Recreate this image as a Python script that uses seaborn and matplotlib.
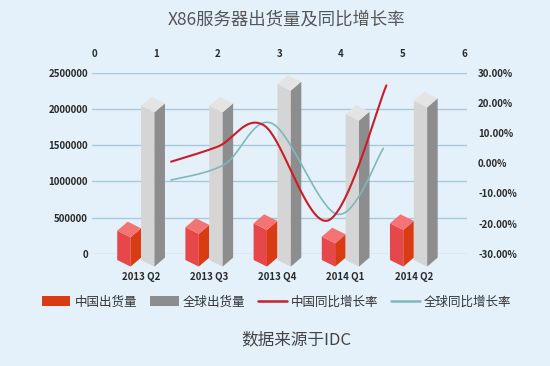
import numpy as np
import pandas as pd
import matplotlib
matplotlib.use("Agg")
import matplotlib.pyplot as plt
from matplotlib.patches import Polygon, Patch
from matplotlib.lines import Line2D
import seaborn as sns

# data
quarters = ["2013 Q2", "2013 Q3", "2013 Q4", "2014 Q1", "2014 Q2"]
china_units = [405000, 452000, 507000, 322000, 507000]
global_units = [2131000, 2131000, 2431000, 2017000, 2200000]

china_growth_x = [1.24, 2.0, 2.76, 3.79, 4.74]
china_growth = [0.5, 5.5, 12.4, -19.0, 25.8]
global_growth_x = [1.24, 2.1, 2.88, 3.94, 4.69]
global_growth = [-5.6, -0.5, 13.2, -16.9, 4.9]

left_ticks = [0, 500000, 1000000, 1500000, 2000000, 2500000]
right_ticks = [-30, -20, -10, 0, 10, 20, 30]
top_ticks = [0, 1, 2, 3, 4, 5, 6]

bg = "#e5f1fa"
grid_col = "#a9c9da"
red_faces = ("#e6474a", "#d93c12", "#f47475")
gray_faces = ("#d5d5d5", "#8d8d8d", "#e4e4e4")
red_line = "#cc1c28"
teal_line = "#7fb7bd"


def smooth(xs, ys, n=40):
    # catmull-rom, like excel's smoothed line
    pts = np.column_stack([xs, ys]).astype(float)
    out = []
    for i in range(len(pts) - 1):
        p0 = pts[max(i - 1, 0)]
        p1 = pts[i]
        p2 = pts[i + 1]
        p3 = pts[min(i + 2, len(pts) - 1)]
        t = np.linspace(0, 1, n)[:, None]
        seg = 0.5 * (2 * p1 + (-p0 + p2) * t + (2 * p0 - 5 * p1 + 4 * p2 - p3) * t ** 2
                     + (-p0 + 3 * p1 - 3 * p2 + p3) * t ** 3)
        out.append(seg if i == 0 else seg[1:])
    out = np.vstack(out)
    return out[:, 0], out[:, 1]


sns.set_theme(style="white")
plt.rcParams["font.family"] = ["Noto Sans CJK SC", "DejaVu Sans"]

fig = plt.figure(figsize=(5.5, 3.66), dpi=100)
fig.patch.set_facecolor(bg)
ax = fig.add_axes([92 / 550, 1 - 253.7 / 366, (467 - 92) / 550, (253.7 - 72.7) / 366])
ax.set_facecolor(bg)

df = pd.DataFrame({
    "quarter": quarters * 2,
    "units": china_units + global_units,
    "series": ["中国出货量"] * len(quarters) + ["全球出货量"] * len(quarters),
})
sns.barplot(data=df, x="quarter", y="units", hue="series", palette=[red_faces[1], gray_faces[1]],
            width=0.7, saturation=1, legend=False, ax=ax)
ax.set_xlim(-0.72, 4.78)
ax.set_ylim(0, 2500000)

# pixel offsets for the fake 3d look, converted to data units
units_per_px = 2500000 / 181.0
shift = 6.3 * units_per_px
drop = 6.6 * units_per_px
rise = 9.0 * units_per_px

for cont, faces in zip(ax.containers, [red_faces, gray_faces]):
    for bar in cont:
        L = bar.get_x()
        W = bar.get_width()
        v = bar.get_height()
        E = L + 0.56 * W
        R = L + W
        bar.set_visible(False)
        left = [(L, -shift), (L, v - shift), (E, v - shift - drop), (E, -shift - drop)]
        right = [(E, -shift - drop), (E, v - shift - drop), (R, v - shift - drop + rise), (R, -shift - drop + rise)]
        top = [(L, v - shift), (E, v - shift - drop), (R, v - shift - drop + rise), (L + R - E, v - shift + rise)]
        for poly, c in zip([left, right, top], faces):
            ax.add_patch(Polygon(poly, closed=True, facecolor=c, edgecolor="none", clip_on=False, zorder=3))

tick_font = dict(size=7, weight="bold", color="#2a2a2a")

ax.set_yticks(left_ticks)
ax.set_yticklabels([str(t) for t in left_ticks], fontdict=tick_font)
ax.set_xticks(range(len(quarters)))
ax.set_xticklabels(quarters, fontdict=tick_font)
ax.yaxis.grid(True, color=grid_col, lw=1)
ax.xaxis.grid(False)
ax.set_axisbelow(True)
ax.set_xlabel("")
ax.set_ylabel("")
ax.tick_params(axis="y", length=0, pad=3)
ax.tick_params(axis="x", length=0, pad=13)

ax2 = ax.twinx()
ax2.set_ylim(-30, 30)
ax2.set_yticks(right_ticks)
ax2.set_yticklabels([f"{t:.2f}%" for t in right_ticks], fontdict=tick_font)
ax2.tick_params(axis="y", length=0, pad=8)

ax3 = ax2.twiny()
ax3.set_xlim(-0.045, 6.05)
ax3.set_xticks(top_ticks)
ax3.set_xticklabels([str(t) for t in top_ticks], fontdict=tick_font)
ax3.tick_params(axis="x", length=0, pad=10)

cx, cy = smooth(china_growth_x, china_growth)
gx, gy = smooth(global_growth_x, global_growth)
sns.lineplot(x=gx, y=gy, sort=False, estimator=None, color=teal_line, linewidth=1.2, ax=ax3)
sns.lineplot(x=cx, y=cy, sort=False, estimator=None, color=red_line, linewidth=1.5, ax=ax3)
ax3.set_xlabel("")
ax3.set_ylabel("")
ax3.set_ylim(-30, 30)

for a in (ax, ax2, ax3):
    for s in a.spines.values():
        s.set_visible(False)

handles = [
    Patch(facecolor=red_faces[1], edgecolor="none"),
    Patch(facecolor=gray_faces[1], edgecolor="none"),
    Line2D([0], [0], color=red_line, lw=1.8),
    Line2D([0], [0], color=teal_line, lw=1.8),
]
labels = ["中国出货量", "全球出货量", "中国同比增长率", "全球同比增长率"]
fig.legend(handles, labels, loc="center", bbox_to_anchor=(0.503, 1 - 302 / 366), ncol=4,
           frameon=False, fontsize=9, handlelength=2.3, handleheight=0.8, handletextpad=0.35,
           columnspacing=1.0, labelcolor="#333333")

fig.text(287 / 550, 1 - 19 / 366, "X86服务器出货量及同比增长率", ha="center", va="center",
         fontsize=12.5, color="#555555")
fig.text(296 / 550, 1 - 340 / 366, "数据来源于IDC", ha="center", va="center",
         fontsize=12, color="#444444")

fig.savefig("out.png", dpi=100, facecolor=bg)
